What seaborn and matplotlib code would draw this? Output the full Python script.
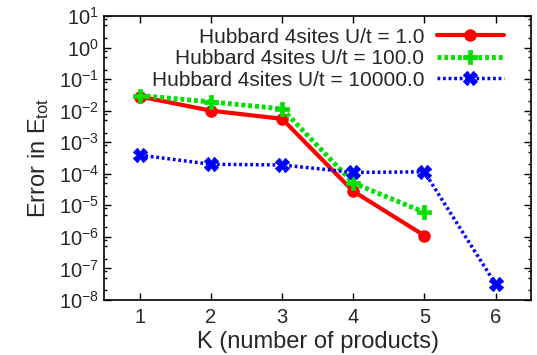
import matplotlib
matplotlib.use("Agg")
import matplotlib.pyplot as plt
import matplotlib.ticker as mticker
import seaborn as sns
import pandas as pd

K = [1, 2, 3, 4, 5, 6]
err_u1 = [0.028, 0.010, 0.0055, 2.8e-5, 1.1e-6]
err_u100 = [0.030, 0.019, 0.0114, 5.1e-5, 6.0e-6]
err_u10000 = [3.9e-4, 2.0e-4, 1.9e-4, 1.1e-4, 1.15e-4, 3.2e-8]
labels = ["Hubbard 4sites U/t = 1.0", "Hubbard 4sites U/t = 100.0", "Hubbard 4sites U/t = 10000.0"]
xticks = [1, 2, 3, 4, 5, 6]

sns.set_theme(style="white")
plt.rcParams['font.family'] = ['Liberation Sans', 'DejaVu Sans']
plt.rcParams['mathtext.fontset'] = 'custom'
plt.rcParams['mathtext.rm'] = 'Liberation Sans'
plt.rcParams['mathtext.it'] = 'Liberation Sans'

fig = plt.figure(figsize=(5.37, 3.55), dpi=100)
ax = fig.add_axes([0.194, 0.155, 0.795, 0.80])

series = [
    (err_u1, labels[0], dict(color="#ff0000", lw=3.0, ls="-", marker="o", ms=9, mew=0)),
    (err_u100, labels[1], dict(color="#00e000", lw=3.5, ls=(0, (0.8, 0.6)), marker="P", ms=10, mew=0.5)),
    (err_u10000, labels[2], dict(color="#0000ff", lw=2.5, ls=(0, (0.8, 0.8)), marker="X", ms=10, mew=0.8)),
]
for vals, lab, st in series:
    df = pd.DataFrame({"K": K[:len(vals)], "err": vals})
    sns.lineplot(data=df, x="K", y="err", ax=ax, label=lab, color=st["color"],
                 linewidth=st["lw"], linestyle=st["ls"], marker=st["marker"],
                 markersize=st["ms"], markeredgewidth=st["mew"], markeredgecolor=st["color"])

ax.set_yscale("log")
ax.set_ylim(1e-8, 10)
ax.set_xlim(0.5, 6.5)
ax.set_xticks(xticks)
ax.yaxis.set_major_locator(mticker.LogLocator(base=10, numticks=20))
ax.yaxis.set_minor_locator(mticker.LogLocator(base=10, subs=[2, 5, 8], numticks=20))
ax.yaxis.set_minor_formatter(mticker.NullFormatter())
ax.tick_params(which="both", direction="in", top=True, right=True, left=True, bottom=True,
               labelsize=14.5, color="black")
ax.tick_params(which="major", length=5, width=1)
ax.tick_params(which="minor", length=2.5, width=1)
ax.tick_params(axis="x", which="minor", top=False, bottom=False)
ax.tick_params(axis="x", pad=6)
for sp in ax.spines.values():
    sp.set_color("black")
    sp.set_linewidth(1.2)

ax.set_xlabel("K (number of products)", fontsize=17, labelpad=3)
ax.set_ylabel("Error in E$_{\\mathrm{tot}}$", fontsize=17, labelpad=6)

ax.legend(loc="upper right", frameon=False, markerfirst=False, fontsize=15,
          handlelength=3.2, labelspacing=0.12, borderaxespad=0.0,
          handletextpad=0.6, bbox_to_anchor=(0.955, 0.988))
for t in ax.get_legend().get_texts():
    t.set_ha("right")
leg = ax.get_legend()
leg._legend_box.align = "right"

fig.savefig("out.png", dpi=100)
